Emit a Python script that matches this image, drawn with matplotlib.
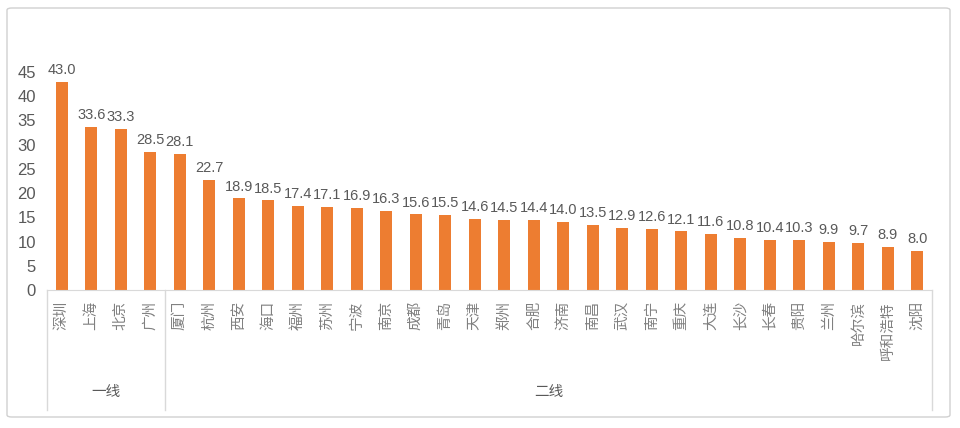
import matplotlib.pyplot as plt
from matplotlib.patches import FancyBboxPatch

plt.rcParams['font.family'] = ['Liberation Sans', 'Noto Sans CJK SC', 'DejaVu Sans']

cities = ['深圳', '上海', '北京', '广州', '厦门', '杭州', '西安', '海口', '福州', '苏州',
          '宁波', '南京', '成都', '青岛', '天津', '郑州', '合肥', '济南', '南昌', '武汉',
          '南宁', '重庆', '大连', '长沙', '长春', '贵阳', '兰州', '哈尔滨', '呼和浩特', '沈阳']
values = [43.0, 33.6, 33.3, 28.5, 28.1, 22.7, 18.9, 18.5, 17.4, 17.1,
          16.9, 16.3, 15.6, 15.5, 14.6, 14.5, 14.4, 14.0, 13.5, 12.9,
          12.6, 12.1, 11.6, 10.8, 10.4, 10.3, 9.9, 9.7, 8.9, 8.0]
groups = ['一线', '二线']
group_sizes = [4, 26]

bar_color = '#ED7D31'
text_color = '#595959'
label_color = '#808080'
line_color = '#D9D9D9'

fig = plt.figure(figsize=(9.6, 4.28), dpi=100)
ax = fig.add_axes([47 / 960, (428 - 290) / 428, (932 - 47) / 960, 218 / 428])

x = list(range(len(cities)))
bars = ax.bar(x, values, width=0.42, color=bar_color)
for b, v in zip(bars, values):
    ax.text(b.get_x() + b.get_width() / 2, v + 1.0, f'{v:.1f}', ha='center', va='bottom',
            fontsize=10.5, color=text_color)

ax.set_xlim(-0.5, len(cities) - 0.5)
ax.set_ylim(0, 45)
ax.set_yticks(range(0, 50, 5))
ax.tick_params(axis='y', length=0, labelsize=12, labelcolor=text_color, pad=8)
ax.set_xticks(x)
ax.set_xticklabels(cities, rotation=90, fontsize=10.5, color=label_color, va='top')
ax.tick_params(axis='x', length=0, pad=8)
for s in ['top', 'right', 'left']:
    ax.spines[s].set_visible(False)
ax.spines['bottom'].set_color(line_color)

# group separators and labels
trans = ax.get_xaxis_transform()
start = -0.5
bounds = [start]
for g, n in zip(groups, group_sizes):
    end = start + n
    ax.text((start + end) / 2, -0.47, g, transform=trans, ha='center', va='center',
            fontsize=10.5, color=text_color)
    bounds.append(end)
    start = end
for bx in bounds:
    ax.plot([bx, bx], [0, -0.55], transform=trans, color=line_color, lw=1, clip_on=False)

# outer frame
frame = FancyBboxPatch((7 / 960, 11 / 428), 943 / 960, 409 / 428,
                       boxstyle='round,pad=0,rounding_size=0.005',
                       transform=fig.transFigure, fill=False, edgecolor='#D0D0D0', lw=1)
fig.patches.append(frame)

fig.savefig('out.png', dpi=100)
